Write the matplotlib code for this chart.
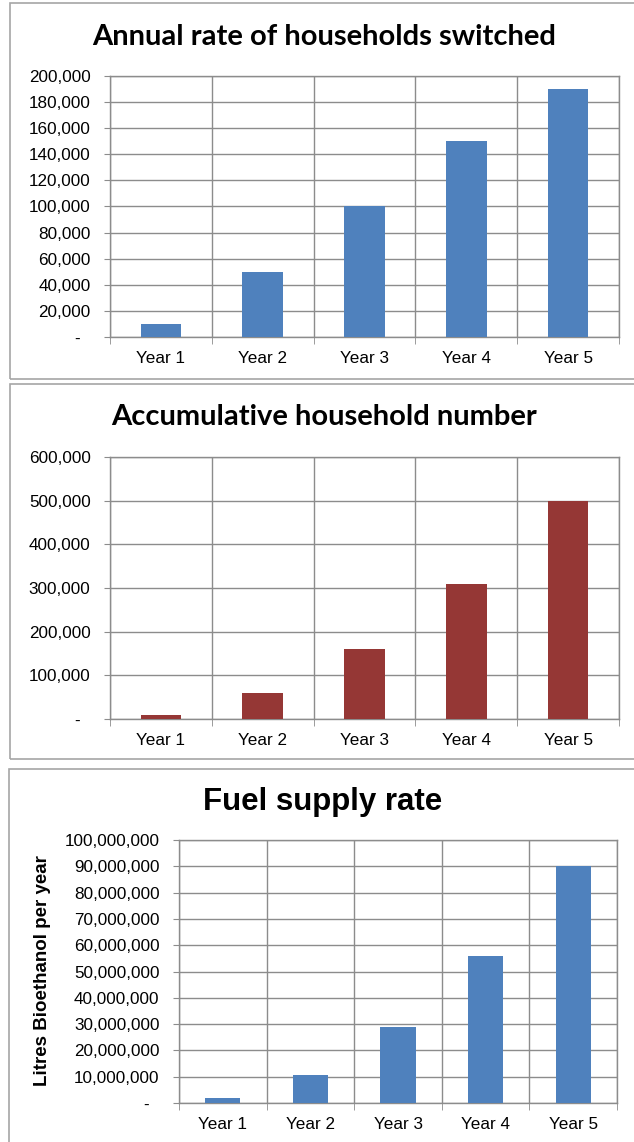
import matplotlib
matplotlib.use("Agg")
import matplotlib.pyplot as plt
import matplotlib.ticker as ticker
from matplotlib.patches import Rectangle

W, H = 634, 1142

years = ["Year 1", "Year 2", "Year 3", "Year 4", "Year 5"]
annual_switched = [10000, 50000, 100000, 150000, 190000]
cumulative_households = [10000, 60000, 160000, 310000, 500000]
fuel_supply = [1800000, 10800000, 28800000, 55800000, 90000000]

blue = "#4F81BD"
red = "#953735"
grid_col = "#8C8C8C"
frame_col = "#A6A6A6"

plt.rcParams['font.family'] = ['Liberation Sans', 'DejaVu Sans']

fig = plt.figure(figsize=(W / 100, H / 100), dpi=100)


def px_axes(l, t, r, b):
    return fig.add_axes([l / W, 1 - b / H, (r - l) / W, (b - t) / H])


def frame(t, b, l=10, r=645):
    fig.patches.append(Rectangle((l / W, 1 - b / H), (r - l) / W, (b - t) / H,
                                 transform=fig.transFigure, fill=False,
                                 edgecolor=frame_col, linewidth=1.2))


def fmt(v, pos):
    # accounting style: zero shown as a dash
    if v == 0:
        return "-  "
    return "{:,.0f}".format(v)


def bar_panel(ax, values, color, ymax, step):
    x = range(1, len(values) + 1)
    ax.bar(x, values, width=0.4, color=color, zorder=3)
    ax.set_xlim(0.5, len(values) + 0.5)
    ax.set_ylim(0, ymax)
    ax.set_yticks(range(0, ymax + 1, step))
    ax.yaxis.set_major_formatter(ticker.FuncFormatter(fmt))
    ax.set_xticks(list(x))
    ax.set_xticklabels(years)
    ax.set_xticks([i + 0.5 for i in range(len(values) + 1)], minor=True)
    ax.grid(True, axis='y', which='major', color=grid_col, linewidth=1, zorder=0)
    ax.grid(True, axis='x', which='minor', color=grid_col, linewidth=1, zorder=0)
    ax.tick_params(axis='x', which='major', length=0, labelsize=12.3, pad=10)
    ax.tick_params(axis='x', which='minor', length=5, color=grid_col, direction='out')
    ax.tick_params(axis='y', length=4, color=grid_col, labelsize=12.3, pad=10)
    for s in ax.spines.values():
        s.set_color(grid_col)
        s.set_linewidth(1)


# panel 1
frame(3, 379)
ax1 = px_axes(110, 76, 619, 337)
bar_panel(ax1, annual_switched, blue, 200000, 20000)
fig.text(324 / W, 1 - 37 / H, "Annual rate of households switched", ha='center', va='center',
         fontsize=21, fontweight='bold', family=['Lato', 'DejaVu Sans'])

# panel 2
frame(384, 759)
ax2 = px_axes(110, 457, 619, 719)
bar_panel(ax2, cumulative_households, red, 600000, 100000)
fig.text(324 / W, 1 - 417 / H, "Accumulative household number", ha='center', va='center',
         fontsize=21, fontweight='bold', family=['Lato', 'DejaVu Sans'])

# panel 3
frame(769, 1160, l=9)
ax3 = px_axes(179, 840, 617, 1103)
bar_panel(ax3, fuel_supply, blue, 100000000, 10000000)
fig.text(323 / W, 1 - 802 / H, "Fuel supply rate", ha='center', va='center',
         fontsize=22.5, fontweight='bold')
fig.text(43 / W, 1 - 971 / H, "Litres Bioethanol per year", ha='center', va='center',
         rotation=90, fontsize=13.5, fontweight='bold')

fig.savefig("out.png", dpi=100)
